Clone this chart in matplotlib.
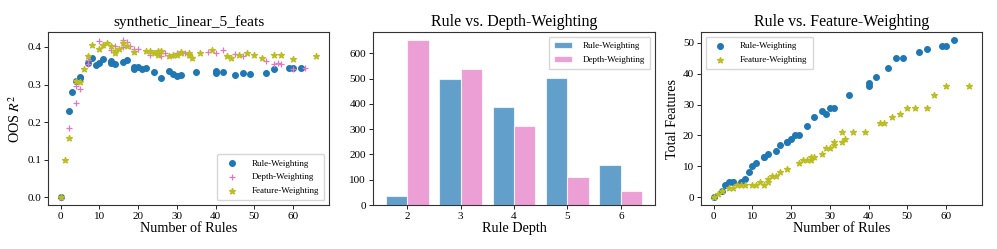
import matplotlib
matplotlib.use("Agg")
import matplotlib.pyplot as plt
import numpy as np

plt.rcParams['font.family'] = ['Liberation Serif', 'DejaVu Serif']
plt.rcParams['mathtext.fontset'] = 'stix'

# Rule-Weighting: (number of rules, OOS R2, total features)
rule_n = [0, 2, 3, 4, 5, 5, 7, 8, 9, 10, 11, 13, 13, 14, 16, 17, 19, 19, 20, 21, 22, 24, 26, 28, 29, 30, 31, 35, 40, 40, 42, 45, 47, 49, 53, 55, 59, 60, 62]
rule_r2 = [0.0, 0.23, 0.279, 0.31, 0.32, 0.318, 0.358, 0.372, 0.353, 0.358, 0.368, 0.364, 0.358, 0.355, 0.36, 0.365, 0.347, 0.342, 0.347, 0.342, 0.345, 0.333, 0.317, 0.336, 0.328, 0.323, 0.326, 0.333, 0.335, 0.332, 0.333, 0.326, 0.33, 0.328, 0.332, 0.342, 0.343, 0.343, 0.345]
rule_feats = [0, 2, 4, 5, 5, 5, 5, 6, 8, 10, 11, 13, 13, 14, 15, 17, 18, 18, 19, 20, 20, 23, 26, 28, 27, 29, 29, 33, 36, 37, 39, 42, 45, 45, 47, 48, 49, 49, 51]

# Depth-Weighting
depth_n = [0, 2, 4, 4, 5, 7, 7, 10, 11, 13, 14, 16, 16, 17, 18, 19, 20, 23, 26, 26, 27, 29, 30, 32, 34, 38, 40, 42, 45, 47, 53, 55, 56, 57, 60, 63]
depth_r2 = [0.0, 0.185, 0.252, 0.295, 0.289, 0.355, 0.365, 0.417, 0.405, 0.392, 0.403, 0.419, 0.40, 0.412, 0.403, 0.395, 0.395, 0.38, 0.39, 0.377, 0.383, 0.38, 0.383, 0.383, 0.374, 0.387, 0.383, 0.392, 0.381, 0.377, 0.364, 0.355, 0.357, 0.355, 0.342, 0.344]

# Feature-Weighting
feat_n = [0, 1, 2, 4, 5, 6, 7, 8, 10, 11, 12, 13, 14, 14, 15, 16, 17, 19, 22, 23, 24, 25, 25, 26, 28, 29, 30, 31, 31, 33, 33, 34, 36, 39, 43, 44, 46, 48, 50, 52, 55, 57, 60, 66]
feat_r2 = [0.0, 0.10, 0.157, 0.31, 0.308, 0.342, 0.375, 0.405, 0.395, 0.405, 0.41, 0.403, 0.385, 0.39, 0.395, 0.41, 0.402, 0.386, 0.39, 0.388, 0.385, 0.38, 0.39, 0.388, 0.375, 0.38, 0.38, 0.387, 0.384, 0.383, 0.38, 0.37, 0.383, 0.393, 0.376, 0.372, 0.378, 0.383, 0.378, 0.37, 0.38, 0.38, 0.368, 0.376]
feat_feats = [0, 1, 2, 3, 3, 4, 4, 4, 4, 4, 5, 4, 5, 6, 7, 7, 8, 9, 11, 12, 12, 12, 13, 13, 14, 16, 16, 17, 18, 18, 21, 19, 21, 21, 24, 24, 26, 27, 29, 29, 29, 33, 36, 36]

# Rule depth histogram
depths = [2, 3, 4, 5, 6]
rule_depth_counts = [35, 497, 387, 503, 157]
depth_depth_counts = [652, 537, 313, 110, 55]

blue = '#1f77b4'
pink = '#e377c2'
olive = '#bcbd22'

fig = plt.figure(figsize=(9.97, 2.49), dpi=100)
W, H = 997, 249
def ax_at(l, r, t, b):
    return fig.add_axes([l / W, 1 - b / H, (r - l) / W, (b - t) / H])

ax1 = ax_at(48, 329, 32, 205)
ax2 = ax_at(373, 655, 32, 205)
ax3 = ax_at(701, 982, 32, 205)

tick_fs = 8
lab_fs = 10.2
title_fs = 11.5
leg_fs = 6.5

# Panel 1
ax1.scatter(rule_n, rule_r2, s=16, color=blue, marker='o', label='Rule-Weighting', zorder=2)
ax1.scatter(depth_n, depth_r2, s=22, color=pink, marker='+', linewidths=0.9, label='Depth-Weighting', zorder=3)
ax1.scatter(feat_n, feat_r2, s=18, color=olive, marker='*', label='Feature-Weighting', zorder=4)
ax1.set_title('synthetic_linear_5_feats', fontsize=title_fs - 0.4, pad=4)
ax1.set_xlabel('Number of Rules', fontsize=lab_fs, labelpad=1)
ax1.set_ylabel('OOS $R^2$', fontsize=lab_fs, labelpad=3)
ax1.set_xticks([0, 10, 20, 30, 40, 50, 60])
ax1.set_yticks([0.0, 0.1, 0.2, 0.3, 0.4])
ax1.legend(loc='lower right', fontsize=leg_fs, handletextpad=1.2, borderpad=0.6, labelspacing=0.6)

# Panel 2
x = np.arange(len(depths))
w = 0.4
ax2.bar(x - w / 2, rule_depth_counts, width=w, color=blue, alpha=0.7, edgecolor='white', linewidth=0.8, label='Rule-Weighting')
ax2.bar(x + w / 2, depth_depth_counts, width=w, color=pink, alpha=0.7, edgecolor='white', linewidth=0.8, label='Depth-Weighting')
ax2.set_xticks(x)
ax2.set_xticklabels([str(d) for d in depths])
ax2.set_yticks([0, 100, 200, 300, 400, 500, 600])
ax2.set_title('Rule vs. Depth-Weighting', fontsize=title_fs, pad=4)
ax2.set_xlabel('Rule Depth', fontsize=lab_fs, labelpad=1)
ax2.legend(loc='upper right', fontsize=leg_fs, handletextpad=1.2, borderpad=0.6, labelspacing=0.6)

# Panel 3
ax3.scatter(rule_n, rule_feats, s=16, color=blue, marker='o', label='Rule-Weighting', zorder=2)
ax3.scatter(feat_n, feat_feats, s=18, color=olive, marker='*', label='Feature-Weighting', zorder=3)
ax3.set_title('Rule vs. Feature-Weighting', fontsize=title_fs, pad=4)
ax3.set_xlabel('Number of Rules', fontsize=lab_fs, labelpad=1)
ax3.set_ylabel('Total Features', fontsize=lab_fs, labelpad=3)
ax3.set_xticks([0, 10, 20, 30, 40, 50, 60])
ax3.set_yticks([0, 10, 20, 30, 40, 50])
ax3.legend(loc='upper left', fontsize=leg_fs, handletextpad=1.2, borderpad=0.6, labelspacing=0.6)

for ax in (ax1, ax2, ax3):
    ax.tick_params(labelsize=tick_fs, length=3, width=0.6, pad=2)
    for sp in ax.spines.values():
        sp.set_linewidth(0.8)
        sp.set_color('#333333')

fig.savefig('out.png', dpi=100)
